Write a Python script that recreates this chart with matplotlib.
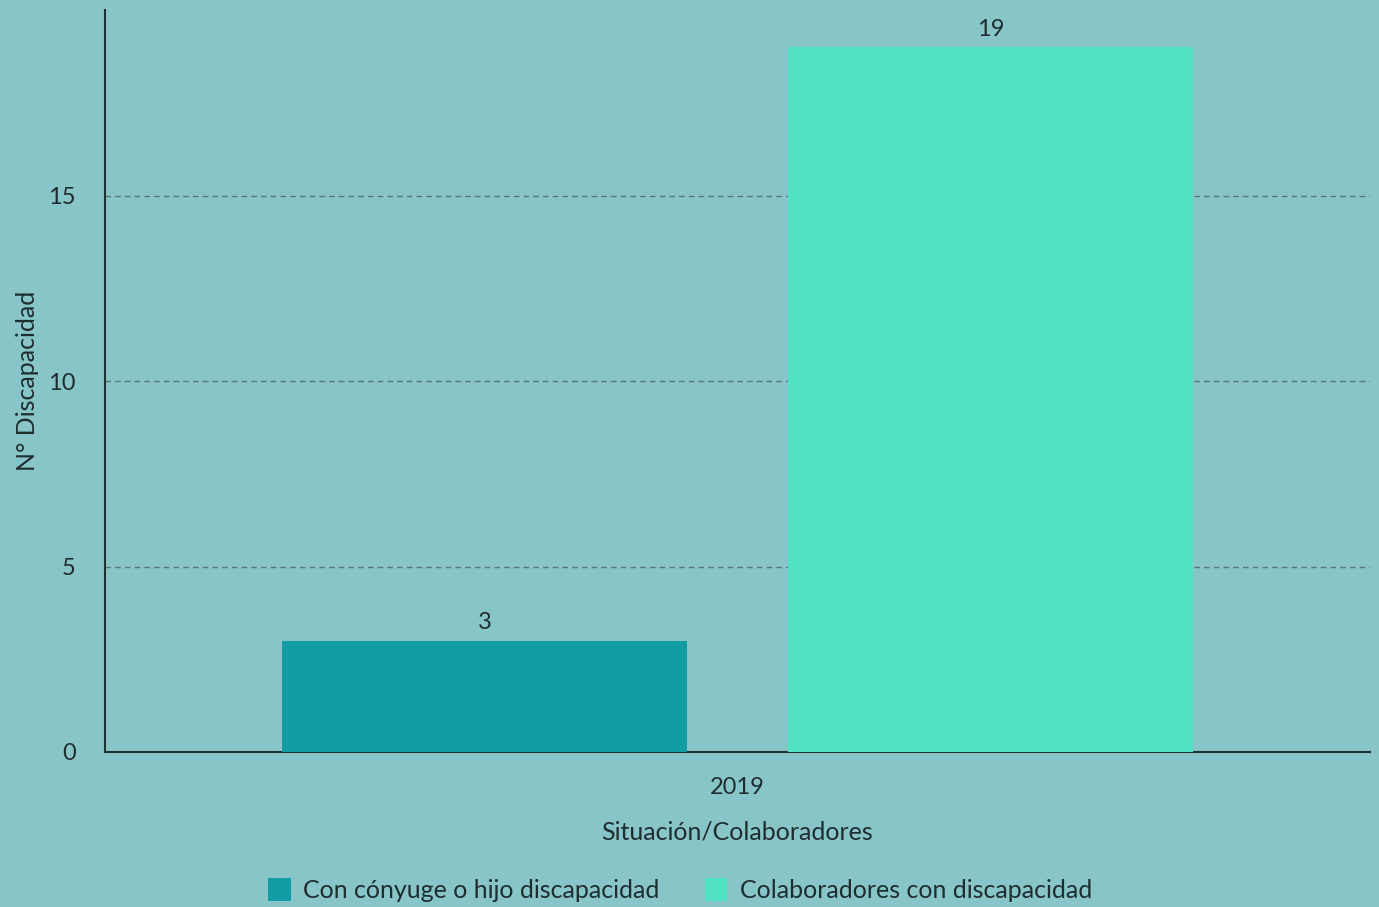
import matplotlib
matplotlib.use("Agg")
import matplotlib.pyplot as plt
import numpy as np

plt.rcParams['font.family'] = ['Lato', 'DejaVu Sans']

years = ["2019"]
series = ["Con cónyuge o hijo discapacidad", "Colaboradores con discapacidad"]
values = [[3], [19]]
colors = ["#139ca4", "#52e3c4"]

bg = "#88c5c8"
txt = "#1e2d30"

fig = plt.figure(figsize=(13.79, 9.07), dpi=100, facecolor=bg)
ax = fig.add_axes([0.0761, 0.1709, 0.9174, 0.818])
ax.set_facecolor(bg)

x = np.arange(len(years))
offsets = [-0.2, 0.2]
for i, name in enumerate(series):
    bars = ax.bar(x + offsets[i], values[i], width=0.32, color=colors[i], label=name, zorder=3)
    for b, v in zip(bars, values[i]):
        ax.text(b.get_x() + b.get_width() / 2, v + 0.2, str(v), ha="center", va="bottom",
                fontsize=17, color=txt)

ax.set_xlim(-0.5, 0.5)
ax.set_ylim(0, 20)
ax.set_yticks([0, 5, 10, 15])
ax.set_xticks(x)
ax.set_xticklabels(years)
ax.tick_params(length=0, labelsize=17, colors=txt)
ax.tick_params(axis="y", pad=21)
ax.tick_params(axis="x", pad=18)
ax.yaxis.grid(True, linestyle=(0, (4, 3)), color="#56787c", linewidth=1, zorder=0)
ax.set_axisbelow(True)

for s in ["top", "right"]:
    ax.spines[s].set_visible(False)
for s in ["left", "bottom"]:
    ax.spines[s].set_color("#1e3236")
    ax.spines[s].set_linewidth(1.5)

ax.set_xlabel("Situación/Colaboradores", fontsize=18, color=txt, labelpad=16)
ax.set_ylabel("N° Discapacidad", fontsize=18, color=txt, labelpad=7)

fig.legend(loc="center", bbox_to_anchor=(680 / 1379, 1 - 890 / 907), ncol=2, frameon=False,
           fontsize=18, labelcolor=txt, handlelength=0.9, handleheight=1.0,
           handletextpad=0.5, columnspacing=1.8)

fig.savefig("out.png", dpi=100, facecolor=bg)
